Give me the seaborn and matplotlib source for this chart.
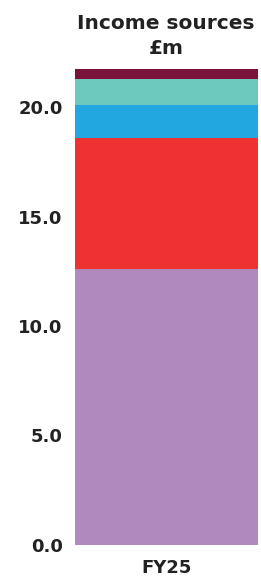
import matplotlib
matplotlib.use("Agg")
import matplotlib.pyplot as plt
import seaborn as sns
import pandas as pd
import numpy as np

categories = ["FY25"]
segments = ["Segment A", "Segment B", "Segment C", "Segment D", "Segment E"]
values = [12.6, 6.0, 1.5, 1.2, 0.45]
colors = ["#B089BE", "#EE3131", "#22A7E0", "#6DC9BE", "#7B1239"]
yticks = [0.0, 5.0, 10.0, 15.0, 20.0]

sns.set_theme(style="white")
plt.rcParams['font.family'] = ['DejaVu Sans']

fig = plt.figure(figsize=(2.61, 5.79), dpi=100)
ax = fig.add_axes([75/261, (579-544.5)/579, (258-75)/261, (544.5-69)/579])

bottom = 0.0
for seg, val, col in zip(segments, values, colors):
    df = pd.DataFrame({"cat": categories, "val": [val]})
    sns.barplot(data=df, x="cat", y="val", color=col, bottom=bottom,
                width=1.0, saturation=1, ax=ax, linewidth=0)
    bottom += val

ax.set_xlim(-0.5, 0.5)
ax.set_ylim(0, sum(values))
ax.set_yticks(yticks)
ax.set_yticklabels([f"{t:.1f}" for t in yticks], fontsize=13, fontweight="bold", color="#222222")
ax.set_xticks([0])
ax.set_xticklabels(categories, fontsize=13, fontweight="bold", color="#222222")
ax.tick_params(axis="y", length=0, pad=9)
ax.tick_params(axis="x", length=0, pad=10.5)
ax.set_xlabel("")
ax.set_ylabel("")
for s in ax.spines.values():
    s.set_visible(False)

fig.text(166/261, 1-36/579, "Income sources\n£m", ha="center", va="center",
         fontsize=14.5, fontweight="bold", color="#222222", linespacing=1.45)

fig.savefig("out.png", dpi=100)
